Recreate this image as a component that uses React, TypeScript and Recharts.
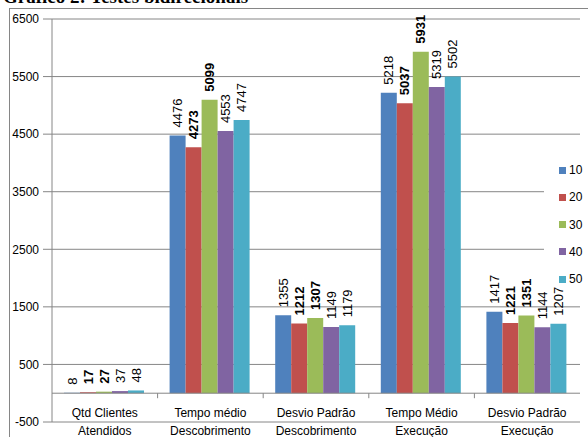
import { Bar, BarChart, CartesianGrid, LabelList, Legend, ReferenceLine, XAxis, YAxis } from 'recharts';

const categoryTop = ['Qtd Clientes', 'Tempo médio', 'Desvio Padrão', 'Tempo Médio', 'Desvio Padrão'];
const categoryBottom = ['Atendidos', 'Descobrimento', 'Descobrimento', 'Execução', 'Execução'];

const s10 = [8, 4476, 1355, 5218, 1417];
const s20 = [17, 4273, 1212, 5037, 1221];
const s30 = [27, 5099, 1307, 5931, 1351];
const s40 = [37, 4553, 1149, 5319, 1144];
const s50 = [48, 4747, 1179, 5502, 1207];

const yTicks = [-500, 500, 1500, 2500, 3500, 4500, 5500, 6500];

const seriesNames = ['10', '20', '30', '40', '50'];
const colors = ['#4F81BD', '#C0504D', '#9BBB59', '#8064A2', '#4BACC6'];
const boldLabels = [false, true, true, false, false];

const data = categoryTop.map((c, i) => ({
	cat: c + ' ' + categoryBottom[i],
	s10: s10[i],
	s20: s20[i],
	s30: s30[i],
	s40: s40[i],
	s50: s50[i],
}));

const W = 588;
const H = 437;
const MARGIN = { top: 19, right: 8, left: 0, bottom: 0 };
const Y_AXIS_W = 52;
const X_AXIS_H = 15;
const PLOT_W = W - MARGIN.left - MARGIN.right - Y_AXIS_W;
const PLOT_H = H - MARGIN.top - MARGIN.bottom - X_AXIS_H;
const Y_MIN = -500;
const Y_MAX = 6500;
const ZERO_Y = MARGIN.top + ((Y_MAX - 0) / (Y_MAX - Y_MIN)) * PLOT_H;
const GRID = '#868686';
const FONT = '"Liberation Sans", Arial, sans-serif';

const CategoryTick = (props: any) => {
	const { x, payload } = props;
	const i = payload.index;
	const band = PLOT_W / categoryTop.length;
	return (
		<g>
			{i < categoryTop.length - 1 && (
				<line x1={x + band / 2} x2={x + band / 2} y1={ZERO_Y} y2={ZERO_Y + 5} stroke={GRID} />
			)}
			<text x={x} y={413} textAnchor='middle' dy='0.35em' fontSize={12} fontFamily={FONT} fill='#000'>
				{categoryTop[i]}
			</text>
			<text x={x} y={431} textAnchor='middle' dy='0.35em' fontSize={12} fontFamily={FONT} fill='#000'>
				{categoryBottom[i]}
			</text>
		</g>
	);
};

const makeLabel = (bold: boolean) => (props: any) => {
	const { x, y, width, value } = props;
	const cx = x + width / 2;
	const ty = y - 8;
	return (
		<text
			x={cx}
			y={ty}
			transform={`rotate(-90, ${cx}, ${ty})`}
			textAnchor='start'
			dy='0.35em'
			fontSize={13}
			fontWeight={bold ? 700 : 400}
			fontFamily={FONT}
			fill='#000'>
			{value}
		</text>
	);
};

// legend sits on top of the grid with a white fill, like the Excel original
const LegendBox = () => (
	<div style={{ background: '#fff', width: 44, height: 131, position: 'relative' }}>
		{seriesNames.map((n, i) => (
			<div
				key={n}
				style={{
					position: 'absolute',
					left: 15,
					top: 15 + i * 27.3 - 8,
					height: 16,
					display: 'flex',
					alignItems: 'center',
					fontFamily: FONT,
					fontSize: 12,
					color: '#000',
				}}>
				<span style={{ display: 'inline-block', width: 7, height: 7, background: colors[i], marginRight: 3 }} />
				{n}
			</div>
		))}
	</div>
);

export default function App() {
	return (
		<div style={{ position: 'absolute', left: 0, top: 0, width: W, height: H, overflow: 'hidden', background: '#fff' }}>
			<div
				style={{
					position: 'absolute',
					left: 3,
					top: -13,
					fontFamily: '"Liberation Serif", "Times New Roman", serif',
					fontWeight: 700,
					fontSize: 19,
					lineHeight: '19px',
					whiteSpace: 'nowrap',
				}}>
				Gráfico 2: Testes bidirecionais
			</div>
			<div
				style={{
					position: 'absolute',
					left: 9,
					top: 8,
					width: 620,
					height: 500,
					borderLeft: `1px solid ${GRID}`,
					borderTop: `1px solid ${GRID}`,
				}}
			/>
			<div style={{ position: 'absolute', left: 0, top: 0 }}>
				<BarChart width={W} height={H} data={data} margin={MARGIN} barCategoryGap={12} barGap={0}>
					<CartesianGrid vertical={false} stroke={GRID} />
					<XAxis
						dataKey='cat'
						height={X_AXIS_H}
						axisLine={false}
						tickLine={false}
						tickSize={0}
						tickMargin={0}
						interval={0}
						tick={<CategoryTick />}
					/>
					<YAxis
						width={Y_AXIS_W}
						domain={[Y_MIN, Y_MAX]}
						ticks={yTicks}
						interval={0}
						stroke={GRID}
						tickSize={9}
						tickMargin={4}
						tick={{ fill: '#000', fontSize: 12, fontFamily: FONT }}
					/>
					<ReferenceLine y={0} stroke={GRID} />
					<Legend
						layout='horizontal'
						verticalAlign='middle'
						align='center'
						content={<LegendBox />}
						wrapperStyle={{ position: 'absolute', left: 544, top: 155, width: 44 }}
					/>
					{seriesNames.map((n, i) => (
						<Bar key={n} dataKey={'s' + n} name={n} fill={colors[i]} isAnimationActive={false}>
							<LabelList dataKey={'s' + n} content={makeLabel(boldLabels[i])} />
						</Bar>
					))}
				</BarChart>
			</div>
		</div>
	);
}
